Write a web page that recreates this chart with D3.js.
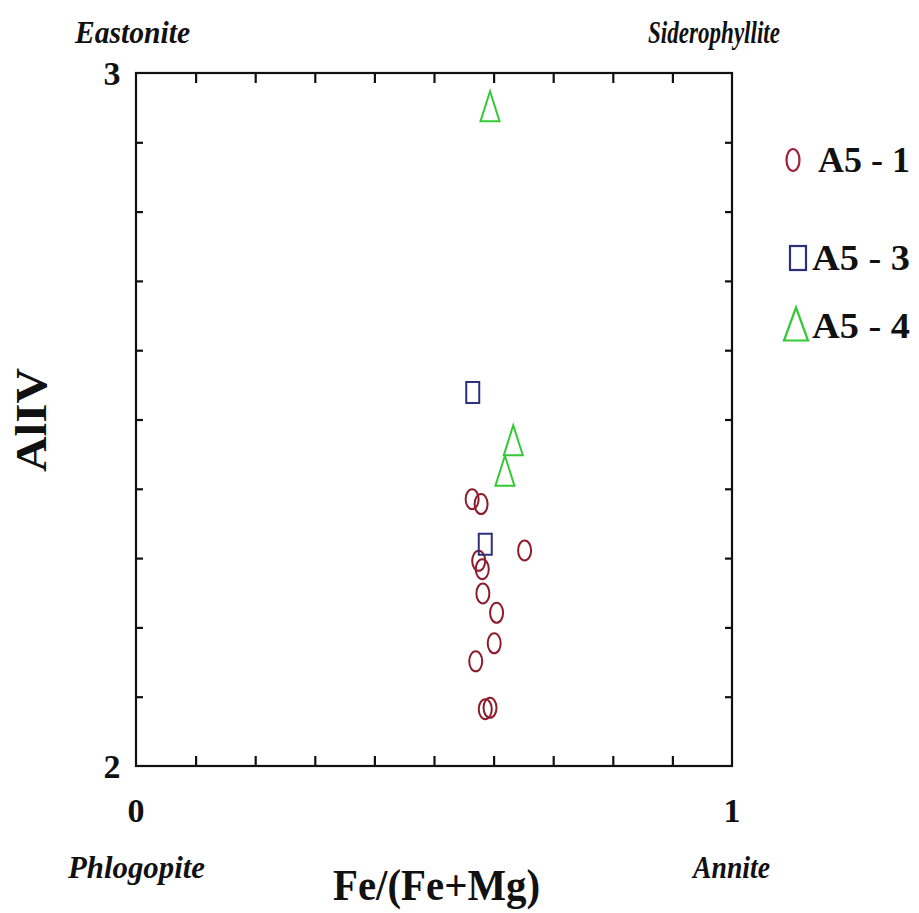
<!DOCTYPE html>
<html>
<head>
<meta charset="utf-8">
<script src="https://cdn.jsdelivr.net/npm/d3@7"></script>
<style>
  body { margin: 0; background: #fff; }
  svg { display: block; }
  text { font-family: "Liberation Serif", "Times New Roman", serif; font-weight: bold; fill: #111; }
</style>
</head>
<body>
<svg id="chart" width="919" height="913"></svg>
<script>
// Fe/(Fe+Mg) vs AlIV, biotite classification
const seriesNames = ["A5 - 1", "A5 - 3", "A5 - 4"];

const a51x = [0.564, 0.579, 0.652, 0.575, 0.581, 0.582, 0.605, 0.601, 0.570, 0.586, 0.594];
const a51y = [2.385, 2.378, 2.311, 2.296, 2.284, 2.249, 2.221, 2.177, 2.151, 2.082, 2.084];

const a53x = [0.565, 0.586];
const a53y = [2.539, 2.320];

const a54x = [0.594, 0.633, 0.619];
const a54y = [2.952, 2.470, 2.426];

const xTickLabels = [0, 1];
const yTickLabels = [2, 3];
const cornerNames = ["Eastonite", "Siderophyllite", "Phlogopite", "Annite"];

function whenDocumentLoaded(action) {
    if (document.readyState === "loading") {
        document.addEventListener("DOMContentLoaded", action);
    } else {
        action();
    }
}

whenDocumentLoaded(() => {
    const svg = d3.select("#chart");

    const left = 136, right = 732, top = 73, bottom = 766;

    const x = d3.scaleLinear().domain([0, 1]).range([left, right]);
    const y = d3.scaleLinear().domain([2, 3]).range([bottom, top]);

    const red = "#8e1b2c", navy = "#2c2f7c", green = "#35c935";

    // frame
    svg.append("rect")
        .attr("x", left).attr("y", top)
        .attr("width", right - left).attr("height", bottom - top)
        .attr("fill", "none").attr("stroke", "#111").attr("stroke-width", 2.2);

    // inward ticks on all four sides
    const ticks = d3.range(0, 1.0001, 0.1);
    const xt = ticks.slice(1, -1);
    const yt = ticks.slice(1, -1).map(t => 2 + t);

    svg.append("g").call(d3.axisBottom(x).tickValues(xt).tickSize(-10).tickFormat(""))
        .attr("transform", "translate(0," + bottom + ")");
    svg.append("g").call(d3.axisTop(x).tickValues(xt).tickSize(-10).tickFormat(""))
        .attr("transform", "translate(0," + top + ")");
    svg.append("g").call(d3.axisLeft(y).tickValues(yt).tickSize(-7).tickFormat(""))
        .attr("transform", "translate(" + left + ",0)");
    svg.append("g").call(d3.axisRight(y).tickValues(yt).tickSize(-7).tickFormat(""))
        .attr("transform", "translate(" + right + ",0)");

    svg.selectAll(".domain").remove();
    svg.selectAll(".tick line").attr("stroke", "#111").attr("stroke-width", 2.2);

    // tick labels (only the ends)
    svg.selectAll(".xlab")
        .data(xTickLabels)
        .enter().append("text")
        .attr("x", d => x(d))
        .attr("y", 822)
        .attr("text-anchor", "middle")
        .style("font-size", "34px")
        .text(d => d);

    svg.selectAll(".ylab")
        .data(yTickLabels)
        .enter().append("text")
        .attr("x", 112)
        .attr("y", d => y(d) + 12)
        .attr("text-anchor", "middle")
        .style("font-size", "34px")
        .text(d => d);

    // corner end-member names
    const corners = [
        { name: cornerNames[0], x: 75, y: 43, w: 115 },
        { name: cornerNames[1], x: 648, y: 43, w: 132 },
        { name: cornerNames[2], x: 68, y: 878, w: 137 },
        { name: cornerNames[3], x: 693, y: 878, w: 77 }
    ];
    svg.selectAll(".corner")
        .data(corners)
        .enter().append("text")
        .attr("x", d => d.x)
        .attr("y", d => d.y)
        .attr("textLength", d => d.w)
        .attr("lengthAdjust", "spacingAndGlyphs")
        .style("font-size", "32px")
        .style("font-style", "italic")
        .text(d => d.name);

    // axis titles
    svg.append("text")
        .attr("transform", "translate(46,420) rotate(-90)")
        .attr("text-anchor", "middle")
        .attr("textLength", 104)
        .attr("lengthAdjust", "spacingAndGlyphs")
        .style("font-size", "44px")
        .text("AlIV");

    svg.append("text")
        .attr("x", 333)
        .attr("y", 900)
        .attr("textLength", 207)
        .attr("lengthAdjust", "spacingAndGlyphs")
        .style("font-size", "44px")
        .text("Fe/(Fe+Mg)");

    // markers
    const a51 = a51x.map((v, i) => ({ x: v, y: a51y[i] }));
    const a53 = a53x.map((v, i) => ({ x: v, y: a53y[i] }));
    const a54 = a54x.map((v, i) => ({ x: v, y: a54y[i] }));

    const tri = (w, h) => "M0," + (-h / 2) + "L" + (w / 2) + "," + (h / 2) + "L" + (-w / 2) + "," + (h / 2) + "Z";

    svg.append("g").selectAll("ellipse")
        .data(a51)
        .enter().append("ellipse")
        .attr("cx", d => x(d.x))
        .attr("cy", d => y(d.y))
        .attr("rx", 6.5).attr("ry", 10)
        .attr("fill", "none").attr("stroke", red).attr("stroke-width", 2);

    svg.append("g").selectAll("rect")
        .data(a53)
        .enter().append("rect")
        .attr("x", d => x(d.x) - 6.5)
        .attr("y", d => y(d.y) - 10.5)
        .attr("width", 13).attr("height", 21)
        .attr("fill", "none").attr("stroke", navy).attr("stroke-width", 2);

    svg.append("g").selectAll("path")
        .data(a54)
        .enter().append("path")
        .attr("transform", d => "translate(" + x(d.x) + "," + y(d.y) + ")")
        .attr("d", tri(19, 30))
        .attr("fill", "none").attr("stroke", green).attr("stroke-width", 2);

    // legend
    const legend = svg.append("g");
    const legendRows = [
        { name: seriesNames[0], cy: 160, base: 172 },
        { name: seriesNames[1], cy: 258, base: 270 },
        { name: seriesNames[2], cy: 324, base: 338 }
    ];

    legend.append("ellipse")
        .attr("cx", 793).attr("cy", legendRows[0].cy)
        .attr("rx", 6.5).attr("ry", 11)
        .attr("fill", "none").attr("stroke", "#a3203a").attr("stroke-width", 2.2);
    legend.append("rect")
        .attr("x", 790).attr("y", legendRows[1].cy - 12)
        .attr("width", 16).attr("height", 24)
        .attr("fill", "none").attr("stroke", navy).attr("stroke-width", 2.2);
    legend.append("path")
        .attr("transform", "translate(796," + legendRows[2].cy + ")")
        .attr("d", tri(24, 33))
        .attr("fill", "none").attr("stroke", green).attr("stroke-width", 2.2);

    legend.selectAll("text")
        .data(legendRows)
        .enter().append("text")
        .attr("x", (d, i) => i === 0 ? 818 : 812)
        .attr("y", d => d.base)
        .attr("textLength", (d, i) => i === 0 ? 92 : 98)
        .attr("lengthAdjust", "spacingAndGlyphs")
        .style("font-size", "35px")
        .text(d => d.name);
});
</script>
</body>
</html>
